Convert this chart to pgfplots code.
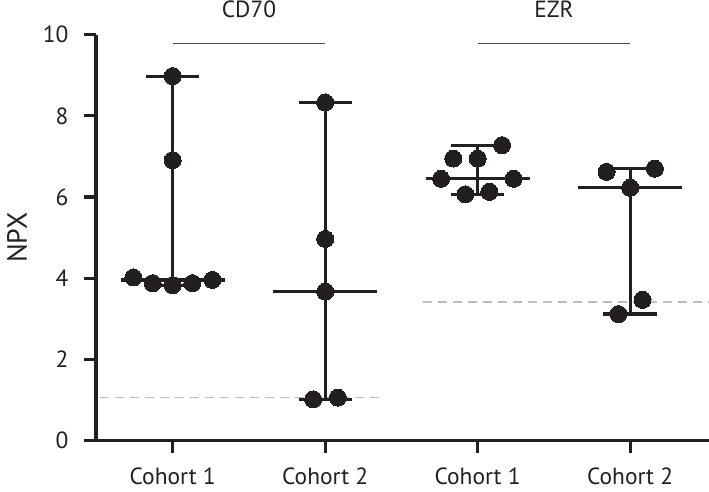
\documentclass[border=0pt]{standalone}
\usepackage{pgfplots}
\pgfplotsset{compat=1.18}
\usepackage{fontspec}
\setmainfont{PT Sans}
\definecolor{txt}{HTML}{231F20}
\definecolor{lod}{HTML}{BDBDBD}
\definecolor{brk}{HTML}{4A4A4A}
\begin{document}
\begin{tikzpicture}
\path[use as bounding box] (-96bp,-51.3bp) rectangle (613bp,440.7bp);
\begin{axis}[
  at={(0,0)}, anchor=south west,
  scale only axis, width=613bp, height=406bp,
  xmin=-0.503, xmax=3.517, ymin=0, ymax=10,
  axis lines*=left,
  axis line style={line width=3.2bp, txt},
  tick align=outside,
  major tick length=12bp,
  tick style={line width=3.2bp, txt},
  ytick={0,2,4,6,8,10},
  xtick={0,1,2,3},
  xticklabels={Cohort 1,Cohort 2,Cohort 1,Cohort 2},
  minor tick num=0,
  /pgf/number format/assume math mode=true,
  tick label style={font=\fontsize{23.5}{27}\selectfont, text=txt},
  yticklabel style={xshift=-12bp},
  xticklabel style={yshift=-12bp},
  ylabel={NPX},
  ylabel style={at={(axis description cs:0,0.5)}, anchor=center, yshift=79bp, font=\fontsize{28}{32}\selectfont, text=txt},
  clip=false,
  seg/.style={txt, line width=3.2bp, forget plot},
]
% LOD dashed lines
\addplot[lod, line width=1.5bp, dash pattern=on 9bp off 6bp, forget plot] coordinates {(-0.48,1.07) (1.38,1.07)};
\addplot[lod, line width=1.5bp, dash pattern=on 9bp off 6bp, forget plot] coordinates {(1.64,3.42) (3.517,3.42)};
% brackets
\addplot[brk, line width=1.4bp, forget plot] coordinates {(0,9.78) (1,9.78)};
\addplot[brk, line width=1.4bp, forget plot] coordinates {(2,9.78) (3,9.78)};
% CD70 cohort 1: median 3.96, range 3.83-8.98
\addplot[seg] coordinates {(-0.34,3.96) (0.34,3.96)};
\addplot[seg] coordinates {(0,3.83) (0,8.98)};
\addplot[seg] coordinates {(-0.175,8.98) (0.175,8.98)};
\addplot[seg] coordinates {(-0.175,3.83) (0.175,3.83)};
% CD70 cohort 2: median 3.67, range 1.02-8.33
\addplot[seg] coordinates {(0.66,3.67) (1.34,3.67)};
\addplot[seg] coordinates {(1,1.02) (1,8.33)};
\addplot[seg] coordinates {(0.825,8.33) (1.175,8.33)};
\addplot[seg] coordinates {(0.825,1.02) (1.175,1.02)};
% EZR cohort 1: median 6.45, range 6.07-7.28
\addplot[seg] coordinates {(1.66,6.45) (2.34,6.45)};
\addplot[seg] coordinates {(2,6.07) (2,7.28)};
\addplot[seg] coordinates {(1.825,7.28) (2.175,7.28)};
\addplot[seg] coordinates {(1.825,6.07) (2.175,6.07)};
% EZR cohort 2: median 6.23, range 3.12-6.70
\addplot[seg] coordinates {(2.66,6.23) (3.34,6.23)};
\addplot[seg] coordinates {(3,3.12) (3,6.70)};
\addplot[seg] coordinates {(2.825,6.70) (3.175,6.70)};
\addplot[seg] coordinates {(2.825,3.12) (3.175,3.12)};
% points
\addplot[only marks, mark=*, mark size=8.5bp, mark options={fill=txt, draw=txt, line width=0pt}] coordinates {
 (-0.258,4.02) (-0.131,3.88) (0,3.83) (0.129,3.88) (0.26,3.96) (0,6.91) (0,8.98)
 (1,8.33) (1,4.97) (1,3.67) (0.921,1.02) (1.083,1.06)
 (2.16,7.28) (1.84,6.95) (2,6.95) (1.76,6.45) (2.236,6.45) (1.919,6.07) (2.077,6.13)
 (2.845,6.62) (3.162,6.70) (3,6.23) (3.081,3.47) (2.923,3.12)
};
\node[font=\fontsize{23.5}{27}\selectfont, text=txt] at (axis cs:0.5,10.62) {CD70};
\node[font=\fontsize{23.5}{27}\selectfont, text=txt] at (axis cs:2.5,10.62) {EZR};
\end{axis}
\end{tikzpicture}
\end{document}
